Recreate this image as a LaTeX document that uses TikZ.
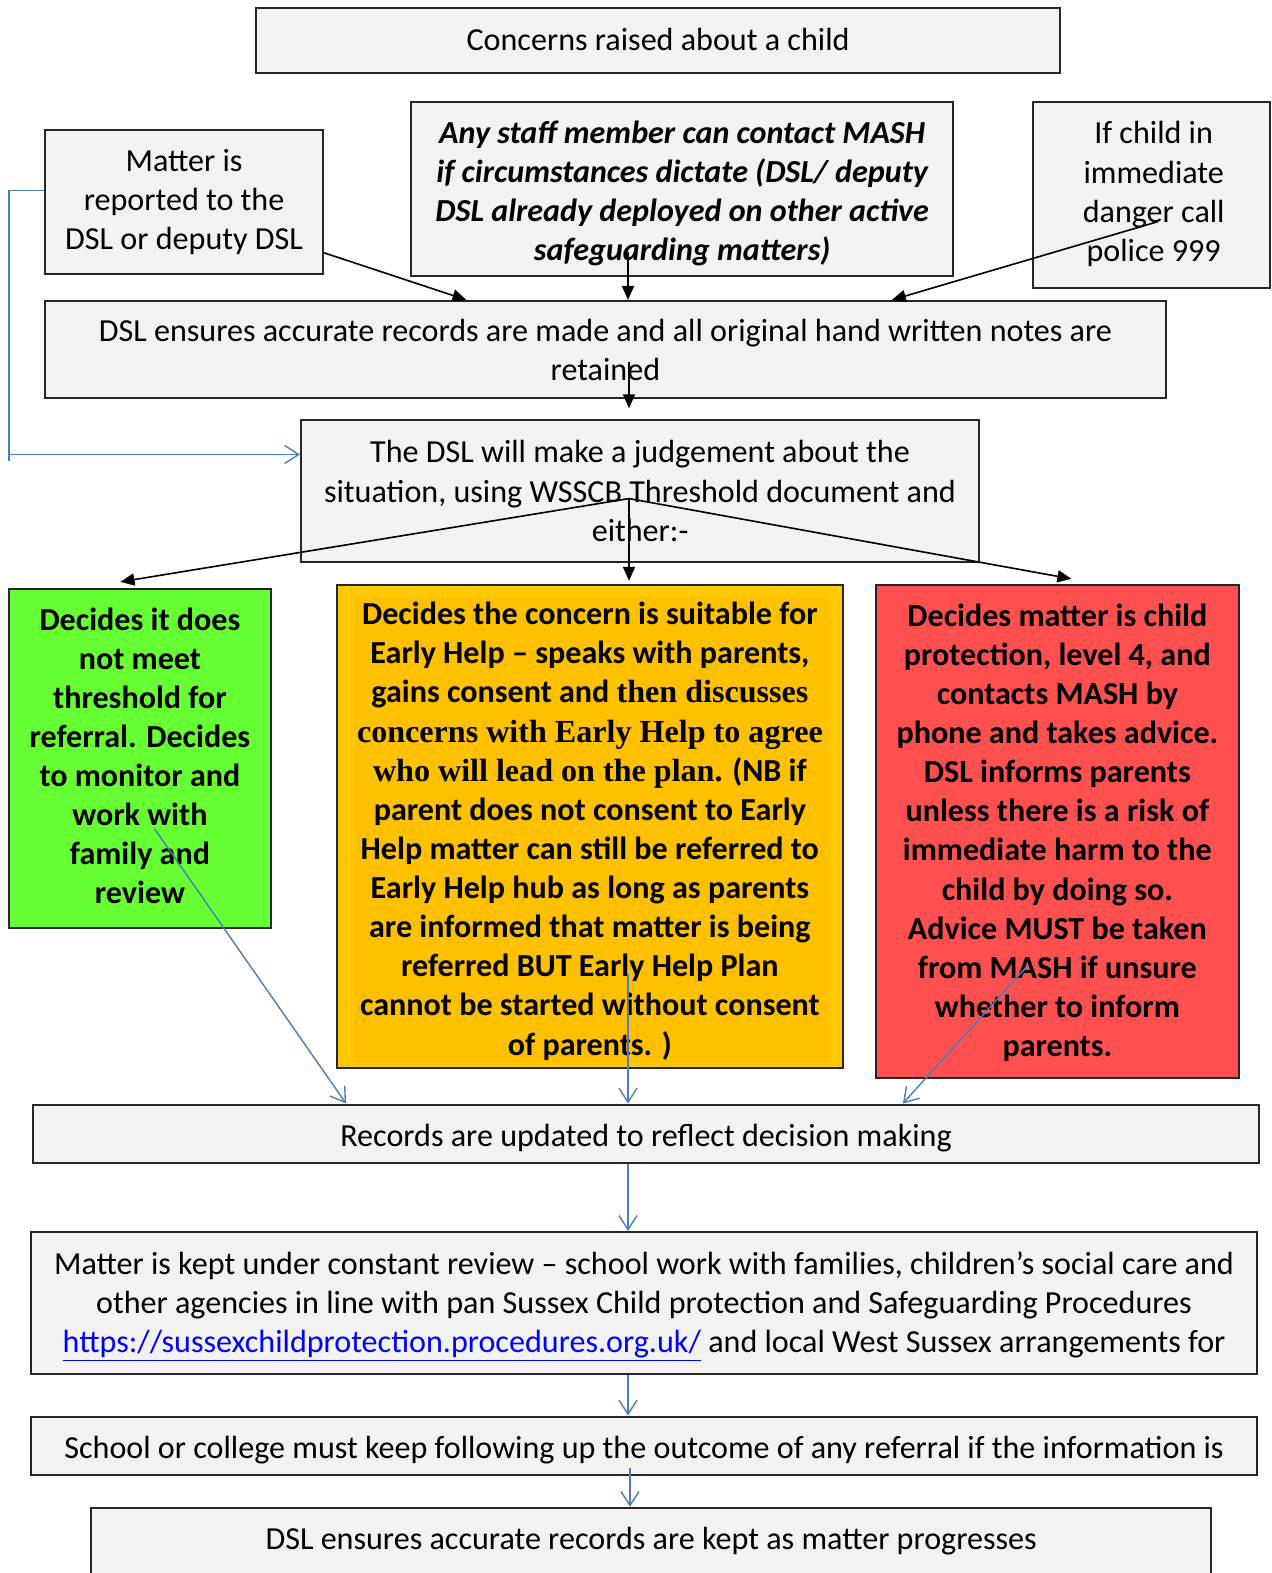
\documentclass[tikz,border=0pt]{standalone}
\usepackage{fontspec}
\setmainfont{Carlito}
\newfontfamily\serifb{Liberation Serif}
\usetikzlibrary{arrows.meta,calc}
\definecolor{boxgray}{HTML}{F2F2F2}
\definecolor{lgreen}{HTML}{66FF33}
\definecolor{lred}{HTML}{FF5050}
\definecolor{ayellow}{HTML}{FFC800}
\definecolor{byellow}{HTML}{FFC000}
\definecolor{conblue}{HTML}{4A7EBB}
\definecolor{linkblue}{HTML}{0000FF}
\begin{document}
\begin{tikzpicture}[x=0.5pt,y=-0.5pt,
 box/.style={draw=black!85, line width=1pt, fill=boxgray, inner sep=0pt},
 txt/.style={align=center, inner sep=0pt, font=\fontsize{16}{19.5}\selectfont},
 btxt/.style={txt, font=\fontsize{16}{19.5}\selectfont\bfseries},
 blk/.style={line width=0.8pt, -{Triangle[length=7pt,width=6pt]}},
 blu/.style={conblue, line width=0.7pt, -{Straight Barb[length=7pt,width=9pt]}},
]
\useasboundingbox (0,0) rectangle (1267,1568);
\fill[white] (0,0) rectangle (1267,1568);

% boxes
\node[box, minimum width=401pt, minimum height=32.5pt] (top) at (656,40.5) {};
\node[box, minimum width=138.5pt, minimum height=71.5pt] (matter) at (183.5,201.5) {};
\node[box, minimum width=270pt, minimum height=86.5pt] (anystaff) at (680,188.5) {};
\node[box, minimum width=118pt, minimum height=92.5pt] (ifchild) at (1148,194.5) {};
\node[box, minimum width=558.5pt, minimum height=48.5pt] (dslens) at (603.5,348.5) {};
\node[box, minimum width=338pt, minimum height=70.5pt] (judge) at (638,489.5) {};
\node[box, fill=lgreen, minimum width=130.5pt, minimum height=169pt] (green) at (139.5,756) {};
\node[box, fill=ayellow, minimum width=252pt, minimum height=241pt,
  path picture={\fill[byellow] ($(path picture bounding box.north west)+(17,12)$) rectangle ($(path picture bounding box.south east)+(-14,-5)$);}] (yellow) at (588,824) {};
\node[box, fill=lred, minimum width=181pt, minimum height=246pt] (red) at (1054,829) {};
\node[box, minimum width=611pt, minimum height=29pt] (records) at (644,1130) {};
\node[box, minimum width=611pt, minimum height=71pt] (kept) at (642,1299) {};
\node[box, minimum width=611pt, minimum height=29pt] (school) at (642,1441) {};
\node[box, minimum width=558pt, minimum height=38.5pt] (dslkept) at (649,1541.5) {};

% texts
\node[txt] (toptxt) at ($(top)+(0,-1)$) {Concerns raised about a child};
\node[txt] (mattertxt) at ($(matter)+(0,0)$) {Matter is\\reported to the\\DSL or deputy DSL};
\node[txt, font=\fontsize{16}{19.5}\selectfont\bfseries\itshape] (anystafftxt) at ($(anystaff)+(0,4.5)$) {Any staff member can contact MASH\\if circumstances dictate (DSL/ deputy\\DSL already deployed on other active\\safeguarding matters)};
\node[txt] (ifchildtxt) at (1150,193.5) {If child in\\immediate\\danger call\\police 999};
\node[txt] (dslenstxt) at ($(dslens)+(0,0)$) {DSL ensures accurate records are made and all original hand written notes are\\retained};
\node[txt] (judgetxt) at ($(judge)+(0,0)$) {The DSL will make a judgement about the\\situation, using WSSCB Threshold document and\\either:-};
\node[btxt] (greentxt) at ($(green)+(0,-2.5)$) {Decides it does\\not meet\\threshold for\\referral. Decides\\to monitor and\\work with\\family and\\review};
\node[btxt] (yellowtxt) at ($(yellow)+(0,4.5)$) {Decides the concern is suitable for\\Early Help -- speaks with parents,\\gains consent and {\serifb\bfseries then discusses}\\{\serifb\bfseries concerns with Early Help to agree}\\{\serifb\bfseries who will lead on the plan.} (NB if\\parent does not consent to Early\\Help matter can still be referred to\\Early Help hub as long as parents\\are informed that matter is being\\referred BUT Early Help Plan\\cannot be started without consent\\of parents. )};
\node[btxt] (redtxt) at ($(red)+(0,1)$) {Decides matter is child\\protection, level 4, and\\contacts MASH by\\phone and takes advice.\\DSL informs parents\\unless there is a risk of\\immediate harm to the\\child by doing so.\\Advice MUST be taken\\from MASH if unsure\\whether to inform\\parents.};
\node[txt] (recordstxt) at ($(records)+(0,4.5)$) {Records are updated to reflect decision making};
\node[txt] (kepttxt) at ($(kept)+(0,3.5)$) {Matter is kept under constant review -- school work with families, children’s social care and\\other agencies in line with pan Sussex Child protection and Safeguarding Procedures\\\textcolor{linkblue}{\underline{https://sussexchildprotection.procedures.org.uk/}} and local West Sussex arrangements for};
\node[txt] (schooltxt) at ($(school)+(0,4.5)$) {School or college must keep following up the outcome of any referral if the information is};
\node[txt] (dslkepttxt) at (649,1536) {DSL ensures accurate records are kept as matter progresses};

% black connectors
\draw[blk] ($(matter.south east)+(0,-22)$) -- (dslens.north -| 465,0);
\draw[blk] ($(anystaff.south -| 626,0)+(0,-25)$) -- (dslens.north -| 626,0);
\draw[blk] ($(ifchild.south west)+(125,-67)$) -- (dslens.north -| 889,0);
\draw[blk] ($(dslens.south -| 627,0)+(0,-37)$) -- ($(judge.north -| 627,0)+(0,-11)$);
\coordinate (jc) at ($(judge.south -| 627,0)+(0,-64)$);
\draw[blk] (jc) -- ($(green.north -| 120,0)+(0,-6)$);
\draw[blk] (jc) -- ($(yellow.north -| 627,0)+(0,-3)$);
\draw[blk] (jc) -- ($(red.north -| 1068,0)+(0,-5)$);

% blue connectors
\coordinate (bl) at (9,453);
\draw[conblue, line width=0.7pt] (matter.west |- 0,190) -- (9,190) -- (9,460);
\draw[blu] (bl) -- (judge.west |- bl);
\draw[blu] ($(green.south west)+(146,-100)$) -- (records.north -| 345,0);
\draw[blu] ($(yellow.south -| 626,0)+(0,-95)$) -- (records.north -| 626,0);
\draw[blu] ($(red.south west)+(152,-113)$) -- (records.north -| 900,0);
\draw[blu] (records.south -| 626,0) -- (kept.north -| 626,0);
\draw[blu] (kept.south -| 626,0) -- (school.north -| 626,0);
\draw[blu] ($(school.south -| 628,0)+(0,-8)$) -- (dslkept.north -| 628,0);
\end{tikzpicture}
\end{document}
